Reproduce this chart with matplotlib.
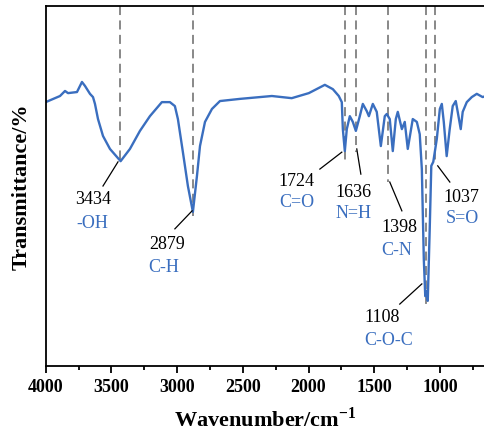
import matplotlib
matplotlib.use('Agg')
import matplotlib.pyplot as plt

plt.rcParams['font.family'] = 'serif'
plt.rcParams['font.serif'] = ['Liberation Serif', 'DejaVu Serif']
plt.rcParams['mathtext.fontset'] = 'custom'
plt.rcParams['mathtext.rm'] = 'Liberation Serif'
plt.rcParams['mathtext.bf'] = 'Liberation Serif:bold'

# FTIR spectrum (wavenumber in cm-1, transmittance in arbitrary %)
wavenumber = [4000, 3891, 3853, 3830, 3762, 3724, 3701, 3663, 3640, 3625, 3602, 3564,
              3511, 3430, 3359, 3283, 3207, 3116, 3055, 3017, 2994, 2956, 2918, 2880,
              2849, 2826, 2788, 2735, 2674, 2522, 2279, 2128, 1998, 1876, 1815, 1770,
              1747, 1739, 1724, 1709, 1686, 1663, 1640, 1610, 1587, 1557, 1541, 1511,
              1481, 1450, 1420, 1405, 1382, 1359, 1336, 1321, 1290, 1268, 1245, 1207,
              1176, 1154, 1138, 1123, 1112, 1104, 1093, 1078, 1066, 1051, 1024, 1001,
              986, 971, 949, 926, 903, 880, 865, 842, 827, 796, 758, 720, 675, 652]
transmittance = [73.3, 75.0, 76.4, 75.8, 76.1, 78.9, 77.8, 75.6, 74.7, 72.8, 68.6, 63.9,
                 60.3, 56.9, 60.3, 65.3, 69.4, 73.3, 73.3, 72.2, 68.6, 59.4, 50.0, 42.8,
                 52.8, 61.1, 67.8, 71.4, 73.6, 74.2, 75.0, 74.4, 75.8, 78.1, 76.9, 75.0,
                 73.3, 65.8, 59.7, 65.8, 69.4, 67.8, 65.3, 69.4, 72.8, 70.8, 69.4, 72.8,
                 70.6, 61.1, 69.4, 70.0, 68.6, 59.7, 68.6, 70.6, 65.8, 67.8, 60.3, 68.6,
                 67.8, 64.4, 54.7, 29.7, 19.4, 20.8, 18.1, 38.1, 55.6, 56.7, 63.1, 71.4,
                 72.8, 67.8, 58.3, 65.8, 72.2, 73.6, 70.6, 65.8, 70.6, 73.3, 74.7, 75.6,
                 74.7, 75.0]

# marked peaks
peaks = [3434, 2879, 1724, 1636, 1398, 1108, 1037]
groups = ['-OH', 'C-H', 'C=O', 'N=H', 'C-N', 'C-O-C', 'S=O']
peak_depth = [56.9, 41.7, 56.7, 59.4, 51.1, 16.7, 56.7]

# leader lines (start on curve, end near label) and label centres
leader_start = [(3450, 56.7), (2886, 43.1), (1747, 59.4), (1633, 60.3),
                (1382, 51.1), (1138, 22.8), (1017, 55.6)]
leader_end = [(3564, 50.0), (3017, 38.1), (1914, 54.7), (1602, 53.3),
              (1290, 43.1), (1306, 17.2), (925, 51.1)]
label_pos = [(3640, 46.6), (3078, 34.0), (2089, 51.6), (1655, 48.4),
             (1306, 38.7), (1443, 13.7), (841, 47.0)]
group_pos = [(3647, 39.8), (3101, 27.6), (2089, 45.6), (1655, 42.6),
             (1329, 32.3), (1390, 7.3), (833, 41.2)]

line_color = '#3a6ebf'

fig = plt.figure(figsize=(4.84, 4.35), dpi=100)
ax = fig.add_axes([0.0944, 0.1563, 0.9056, 0.8276])

for p, d in zip(peaks, peak_depth):
    ax.plot([p, p], [100, d], color='#7f7f7f', lw=1.3, dashes=(5, 3), zorder=1)

ax.plot(wavenumber, transmittance, color=line_color, lw=1.7, zorder=2)

for i in range(len(peaks)):
    ax.plot([leader_start[i][0], leader_end[i][0]], [leader_start[i][1], leader_end[i][1]],
            color='black', lw=0.9, zorder=3)
    ax.text(label_pos[i][0], label_pos[i][1], str(peaks[i]), fontsize=13,
            ha='center', va='center', color='black')
    ax.text(group_pos[i][0], group_pos[i][1], groups[i], fontsize=13,
            ha='center', va='center', color=line_color)

ax.set_xlim(4000, 665)
ax.set_ylim(0, 100)
ax.set_xticks([4000, 3500, 3000, 2500, 2000, 1500, 1000])
ax.set_xticks([3750, 3250, 2750, 2250, 1750, 1250, 750], minor=True)
ax.set_yticks([])
ax.tick_params(axis='x', which='major', direction='out', length=5, width=1.3, labelsize=13)
ax.tick_params(axis='x', which='minor', direction='out', length=3, width=1.3)
for lab in ax.get_xticklabels():
    lab.set_fontweight('bold')
ax.spines['right'].set_visible(False)
for s in ['left', 'top', 'bottom']:
    ax.spines[s].set_linewidth(1.3)

ax.set_xlabel(r'Wavenumber/cm$^{\mathbf{-1}}$', fontsize=16, fontweight='bold', labelpad=8)
ax.set_ylabel('Transmittance/%', fontsize=16, fontweight='bold', labelpad=10)

plt.savefig('out.png', dpi=100)
